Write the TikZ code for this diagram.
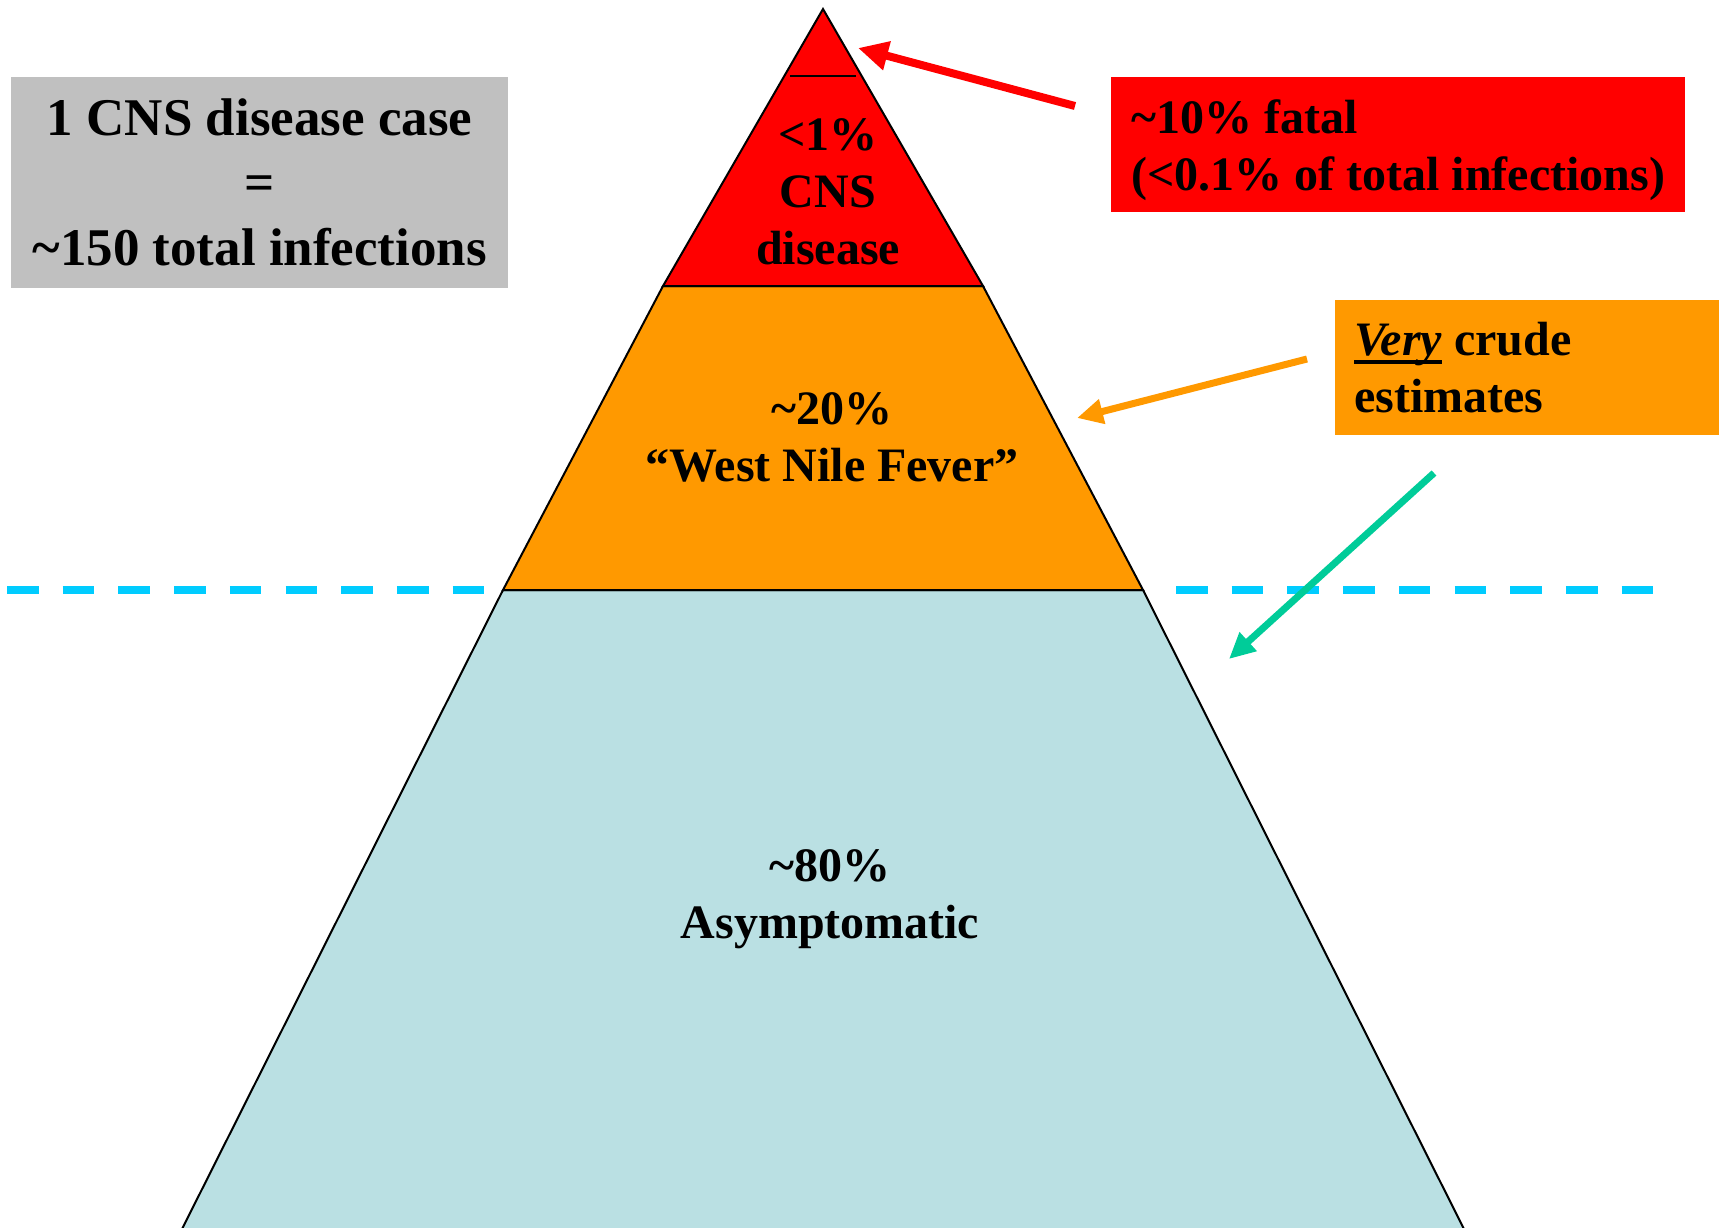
\documentclass[tikz,border=0pt]{standalone}
\usepackage{fontspec}
\setmainfont{Liberation Serif}
\usetikzlibrary{arrows.meta}

\definecolor{capred}{HTML}{FF0000}
\definecolor{feverorange}{HTML}{FF9900}
\definecolor{baseblue}{HTML}{BAE0E3}
\definecolor{notegrey}{HTML}{C0C0C0}
\definecolor{waterline}{HTML}{00CCFF}
\definecolor{pointgreen}{HTML}{00CC99}

% literal tilde glyph (a bare ~ is a tie)
\newcommand\tildechar{\char"7E\relax}
% low, heavy underline as set in slide software
\newcommand\ulword[1]{\setbox0\hbox{#1}\rlap{\rule[-8pt]{\wd0}{4pt}}\box0\relax}

\begin{document}
\begin{tikzpicture}[x=1pt,y=-1pt,
  label48/.style={font=\bfseries\fontsize{48}{57}\selectfont, align=center, inner sep=0pt},
  tier/.style={draw=black, line width=2pt, line join=miter},
  notebox/.style={anchor=north west, inner ysep=0pt, minimum height=135pt,
                  font=\bfseries\fontsize{48}{57}\selectfont},
  waterdash/.style={waterline, line width=8pt, dash pattern=on 31.6pt off 24.1pt},
  pointer/.style={line width=#1}]

\useasboundingbox (0,0) rectangle (1726,1227);
\clip (0,0) rectangle (1726,1227);

% dashed waterline on both sides of the pyramid
\coordinate (wlL1) at (7,590);
\coordinate (wlL2) at (488,590);
\coordinate (wlR1) at (1176,590);
\coordinate (wlR2) at (1655,590);
\draw[waterdash] (wlL1) -- (wlL2);
\draw[waterdash] (wlR1) -- (wlR2);

% pyramid corners
\coordinate (apex) at (823,9);
\coordinate (capL) at (663,286);
\coordinate (capR) at (983,286);
\coordinate (midL) at (503,590);
\coordinate (midR) at (1143,590);
\coordinate (baseL) at (176.5,1240);
\coordinate (baseR) at (1469.5,1240);

\filldraw[tier, fill=baseblue] (midL) -- (midR) -- (baseR) -- (baseL) -- cycle;
\filldraw[tier, fill=feverorange] (capL) -- (capR) -- (midR) -- (midL) -- cycle;
\filldraw[tier, fill=capred] (apex) -- (capR) -- (capL) -- cycle;

% short bar near the tip
\coordinate (tipbarL) at (790,76);
\coordinate (tipbarR) at (856,76);
\draw[line width=2.5pt] (tipbarL) -- (tipbarR);

% tier labels (base = baseline of the last line)
\node[label48, anchor=base] (cnstext) at (828,264) {<1\%\\CNS\\disease};
\node[label48, anchor=base] (fevertext) at (832,481.5) {\tildechar20\%\\“West Nile Fever”};
\node[label48, anchor=base] (asymtext) at (830,938.5) {\tildechar80\%\\Asymptomatic};

% side notes
\node[anchor=north west, fill=notegrey, inner sep=0pt, minimum width=497pt, minimum height=211pt,
      font=\bfseries\fontsize{53}{65}\selectfont, align=center] (ratio) at (11,77)
      {1 CNS disease case\\=\\\tildechar150 total infections};

\node[notebox, fill=capred, inner xsep=20pt, minimum width=572pt, align=left] (fatal) at (1111,77)
      {\rule{0pt}{45pt}\tildechar10\% fatal\\(<0.1\% of total infections)};

\node[notebox, fill=feverorange, inner xsep=19pt, text width=346pt, align=flush left] (crude) at (1335,300)
      {\spaceskip=0pt\xspaceskip=0pt\relax\ulword{\textit{Very}} crude\\estimates};

% pointers
\coordinate (fatalTail) at (1075,106);
\coordinate (fatalTip) at (858,48);
\coordinate (crudeTail) at (1307,359);
\coordinate (crudeTip) at (1077,418);
\coordinate (greenTail) at (1434,473);
\coordinate (greenTip) at (1229,659);

\draw[pointer=8pt, capred, -{Triangle[length=30pt,width=28pt]}] (fatalTail) -- (fatalTip);
\draw[pointer=7pt, feverorange, -{Triangle[length=26pt,width=24pt]}] (crudeTail) -- (crudeTip);
\draw[pointer=7pt, pointgreen, -{Triangle[length=26pt,width=24pt]}] (greenTail) -- (greenTip);

\end{tikzpicture}
\end{document}
